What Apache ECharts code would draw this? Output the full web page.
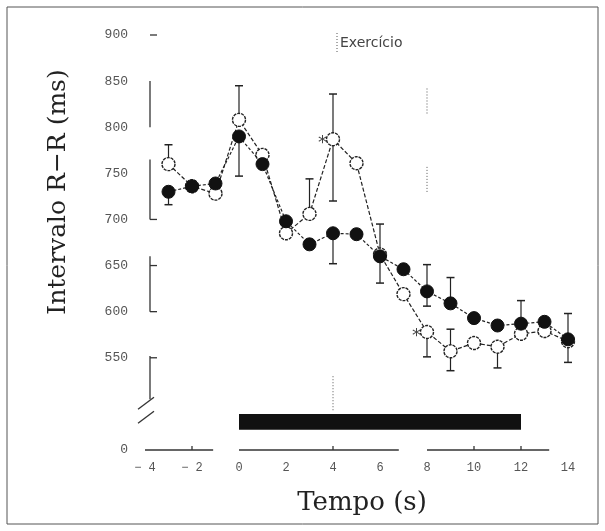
<!DOCTYPE html>
<html>
<head>
<meta charset="utf-8">
<script src="https://cdn.jsdelivr.net/npm/echarts@6/dist/echarts.min.js"></script>
<style>
  html, body { margin: 0; padding: 0; background: #fff; }
  #chart { width: 605px; height: 531px; }
</style>
</head>
<body>
<div id="chart"></div>
<script>
// tempo (s)
const times = [-3, -2, -1, 0, 1, 2, 3, 4, 5, 6, 7, 8, 9, 10, 11, 12, 13, 14]
// intervalo R-R (ms), circulos cheios e vazios
const filled = [730, 736, 739, 790, 760, 698, 673, 685, 684, 660, 646, 622, 609, 593, 585, 587, 589, 570]
const open = [760, 736, 728, 808, 770, 685, 706, 787, 761, 662, 619, 578, 557, 566, 562, 576, 579, 568]
// barras de erro: [tempo, extremo]
const filledErr = [[-3, 716], [0, 747], [4, 652], [6, 631], [8, 651], [8, 606], [9, 637], [12, 612], [14, 598]]
const openErr = [[-3, 781], [0, 845], [3, 744], [4, 836], [4, 720], [6, 695], [8, 551], [9, 581], [9, 536], [11, 539], [14, 545]]
// pontos com diferenca significativa
const starTimes = [4, 8]
// periodo de exercicio
const exercise = [0, 12]
const exerciseBand = [472, 489]
// eixos
const yTicks = [450, 500, 550, 600, 650, 700, 750, 800, 850, 900]
const xTicks = [-4, -2, 0, 2, 4, 6, 8, 10, 12, 14]

const pairs = arr => times.map((t, i) => [t, arr[i]])

function errRender(values) {
  return function (params, api) {
    const t = api.value(0)
    const end = api.value(1)
    const v = values[times.indexOf(t)]
    const p0 = api.coord([t, v])
    const p1 = api.coord([t, end])
    return {
      type: 'group',
      children: [
        { type: 'line', shape: { x1: p0[0], y1: p0[1], x2: p1[0], y2: p1[1] }, style: { stroke: '#222', lineWidth: 1.2 } },
        { type: 'line', shape: { x1: p1[0] - 4, y1: p1[1], x2: p1[0] + 4, y2: p1[1] }, style: { stroke: '#222', lineWidth: 1.5 } }
      ]
    }
  }
}

let myChart = echarts.init(document.getElementById('chart'))

let options = {
  backgroundColor: '#fff',
  animation: false,
  grid: { left: 145, right: 37, top: 35, bottom: 81 },
  xAxis: {
    type: 'value',
    min: -4,
    max: 14,
    interval: 2,
    axisLine: { show: false },
    axisTick: { show: false },
    splitLine: { show: false },
    axisLabel: {
      margin: 12,
      color: '#555',
      fontFamily: 'Liberation Mono',
      fontSize: 12,
      formatter: v => (v < 0 ? '\u2212 ' + Math.abs(v) : String(v))
    }
  },
  yAxis: {
    type: 'value',
    min: 450,
    max: 900,
    interval: 50,
    offset: -5,
    axisLine: { show: false },
    axisTick: { show: false },
    splitLine: { show: false },
    axisLabel: {
      margin: 22,
      color: '#555',
      fontFamily: 'Liberation Mono',
      fontSize: 13,
      formatter: v => (v === 450 ? '0' : v === 500 ? '' : String(v))
    }
  },
  series: [
    {
      name: 'band',
      type: 'line',
      data: [],
      markArea: {
        silent: true,
        itemStyle: { color: '#111' },
        data: [[{ xAxis: exercise[0], yAxis: exerciseBand[0] }, { xAxis: exercise[1], yAxis: exerciseBand[1] }]]
      }
    },
    {
      name: 'errOpen',
      type: 'custom',
      renderItem: errRender(open),
      data: openErr,
      z: 1
    },
    {
      name: 'errFilled',
      type: 'custom',
      renderItem: errRender(filled),
      data: filledErr,
      z: 1
    },
    {
      name: 'open',
      type: 'line',
      data: pairs(open),
      symbol: 'circle',
      symbolSize: 13,
      lineStyle: { color: '#222', width: 1.2, type: [4, 2] },
      itemStyle: { color: '#fff', borderColor: '#222', borderWidth: 1.4, borderType: [3, 1] },
      z: 3
    },
    {
      name: 'filled',
      type: 'line',
      data: pairs(filled),
      symbol: 'circle',
      symbolSize: 13,
      lineStyle: { color: '#222', width: 1.2, type: [3, 2] },
      itemStyle: { color: '#111', borderColor: '#111' },
      z: 4
    },
    {
      name: 'stars',
      type: 'scatter',
      symbolSize: 0,
      data: starTimes.map(t => [t, open[times.indexOf(t)]]),
      label: {
        show: true,
        formatter: '*',
        position: 'left',
        distance: 6,
        offset: [0, 4],
        color: '#111',
        fontSize: 18,
        fontFamily: 'DejaVu Sans'
      },
      z: 5
    }
  ]
}
myChart.setOption(options)

// decoracao: eixos partidos, titulos e moldura
const px = (x, y) => myChart.convertToPixel({ gridIndex: 0 }, [x, y])
const axisX = px(-4, 900)[0] + 5
const axisY = px(0, 450)[1]
const line = (x1, y1, x2, y2, extra) => ({
  type: 'line',
  shape: { x1, y1, x2, y2 },
  style: Object.assign({ stroke: '#333', lineWidth: 1.3 }, extra || {})
})
const ySegments = [[850, 800], [765, 700], [660, 600], [552, 505]]
const xSegments = [[-4, -1.1], [0, 6.8], [8, 13.2]]
const yTickMarks = [900, 700, 650, 600, 550]
const xTickMarks = [-2, 4, 10, 12]
const g = []
ySegments.forEach(s => g.push(line(axisX, px(0, s[0])[1], axisX, px(0, s[1])[1])))
yTickMarks.forEach(v => g.push(line(axisX, px(0, v)[1], axisX + 7, px(0, v)[1])))
xSegments.forEach(s => g.push(line(px(s[0], 0)[0], axisY, px(s[1], 0)[0], axisY)))
xTickMarks.forEach(v => g.push(line(px(v, 0)[0], axisY, px(v, 0)[0], axisY - 4)))
const yb = px(0, 505)[1]
g.push(line(axisX - 12, yb + 10, axisX + 4, yb - 2))
g.push(line(axisX - 12, yb + 24, axisX + 4, yb + 12))
// linhas pontilhadas verticais
const dotted = { lineDash: [1, 2], lineWidth: 1, stroke: '#555' }
g.push(line(px(4, 0)[0], px(0, 530)[1], px(4, 0)[0], px(0, 493)[1], dotted))
g.push(line(px(8, 0)[0], px(0, 842)[1], px(8, 0)[0], px(0, 814)[1], dotted))
g.push(line(px(8, 0)[0], px(0, 757)[1], px(8, 0)[0], px(0, 728)[1], dotted))
g.push(line(px(4, 0)[0] + 4, 33, px(4, 0)[0] + 4, 52, dotted))
g.push({
  type: 'text',
  left: px(4, 0)[0] + 7,
  top: 36,
  style: { text: 'Exercício', font: '14px "DejaVu Sans"', fill: '#444' }
})
g.push({
  type: 'text',
  x: 58,
  y: 192,
  rotation: Math.PI / 2,
  style: {
    text: 'Intervalo R\u2212R (ms)',
    font: '25px "DejaVu Serif"',
    fill: '#222',
    align: 'center',
    verticalAlign: 'middle'
  }
})
g.push({
  type: 'text',
  x: 362,
  y: 503,
  style: {
    text: 'Tempo (s)',
    font: '26px "DejaVu Serif"',
    fill: '#222',
    align: 'center',
    verticalAlign: 'middle'
  }
})
g.push({
  type: 'rect',
  shape: { x: 7, y: 7, width: 591, height: 517 },
  style: { fill: 'none', stroke: '#555', lineWidth: 1 },
  z: -1
})
myChart.setOption({ graphic: g })
</script>
</body>
</html>
